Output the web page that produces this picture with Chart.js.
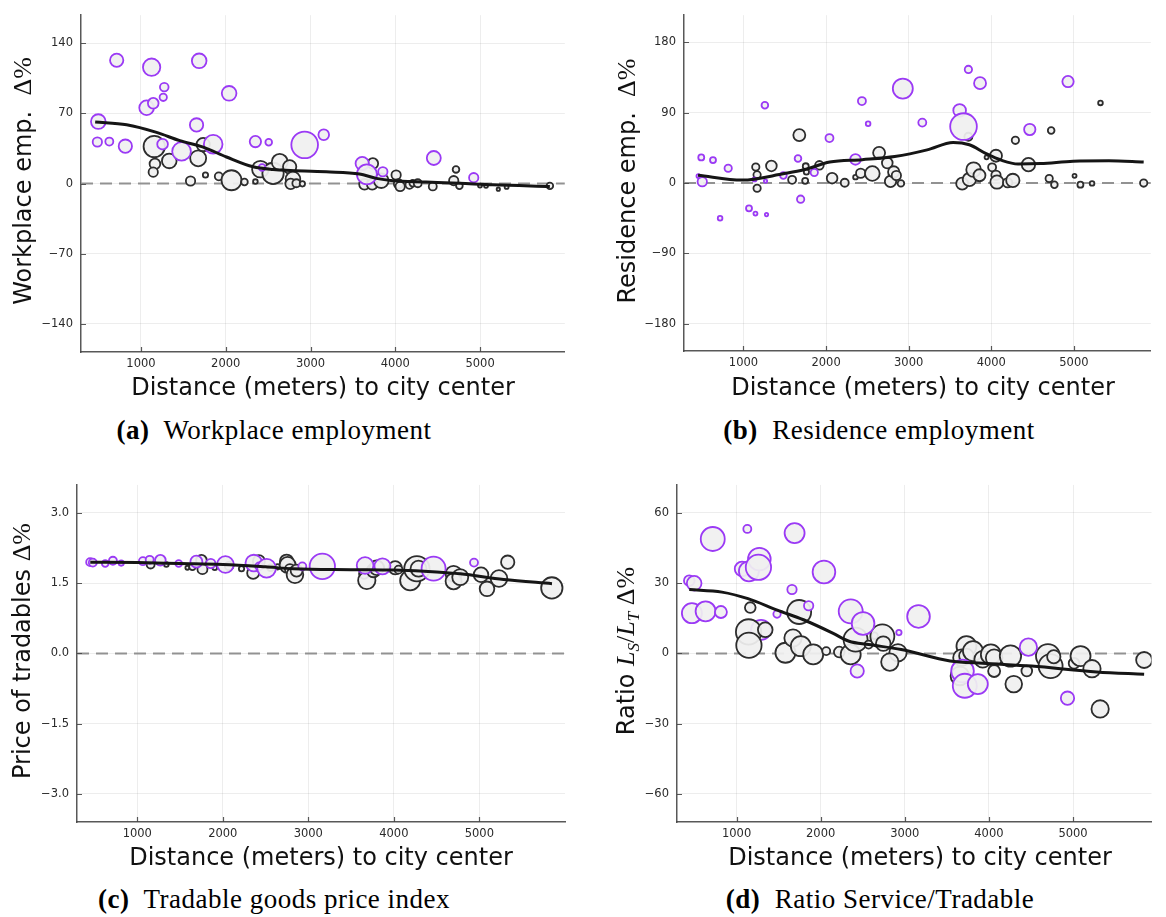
<!DOCTYPE html>
<html>
<head>
<meta charset="utf-8">
<title>Employment, prices and sector ratio by distance to city center</title>
<script src="https://cdn.jsdelivr.net/npm/chart.js@4.4.0/dist/chart.umd.min.js"></script>
<style>
  html, body { margin: 0; padding: 0; background: #fff; }
  #fig { position: relative; width: 1166px; height: 917px; overflow: hidden; background: #fff; }
  canvas { position: absolute; }
  .xt { position: absolute; font-family: 'DejaVu Sans'; font-size: 24px; line-height: 24px;
        white-space: nowrap; transform: translateX(-50%); color: #111; }
  .yt { position: absolute; font-family: 'DejaVu Sans'; font-size: 24px; line-height: 24px;
        white-space: nowrap; transform: translate(-50%, -50%) rotate(-90deg); color: #111; }
  .m { font-family: 'Liberation Serif'; font-size: 26px; }
  .m sub { font-size: 17px; vertical-align: -5px; line-height: 0; }
  .cap { position: absolute; font-family: 'Liberation Serif'; font-size: 27px; line-height: 27px;
         letter-spacing: 0.5px; white-space: nowrap; transform: translateX(-50%); color: #000; }
</style>
</head>
<body>
<div id="fig">
  <canvas id="cA" width="580" height="380" style="left:0px;top:0px"></canvas>
  <canvas id="cB" width="566" height="380" style="left:600px;top:0px"></canvas>
  <canvas id="cC" width="580" height="380" style="left:0px;top:470px"></canvas>
  <canvas id="cD" width="566" height="380" style="left:600px;top:470px"></canvas>

  <div class="yt" style="left:23px;top:181px">Workplace emp.&nbsp;&nbsp;<span class="m">Δ%</span></div>
  <div class="yt" style="left:627px;top:181px">Residence emp.&nbsp;&nbsp;<span class="m">Δ%</span></div>
  <div class="yt" style="left:22px;top:651px">Price of tradables <span class="m">Δ%</span></div>
  <div class="yt" style="left:626px;top:651px">Ratio <span class="m"><i>L</i><sub><i>S</i></sub>/<i>L</i><sub><i>T</i></sub> Δ%</span></div>

  <div class="xt" style="left:323px;top:375px">Distance (meters) to city center</div>
  <div class="xt" style="left:923px;top:375px">Distance (meters) to city center</div>
  <div class="xt" style="left:321px;top:845px">Distance (meters) to city center</div>
  <div class="xt" style="left:920px;top:845px">Distance (meters) to city center</div>

  <div class="cap" style="left:274px;top:417px"><b>(a)</b>&nbsp; Workplace employment</div>
  <div class="cap" style="left:879px;top:417px"><b>(b)</b>&nbsp; Residence employment</div>
  <div class="cap" style="left:274px;top:886px"><b>(c)</b>&nbsp; Tradable goods price index</div>
  <div class="cap" style="left:880px;top:886px"><b>(d)</b>&nbsp; Ratio Service/Tradable</div>
</div>

<script>
// Shared x-axis ticks (meters)
const xTicks = [1000, 2000, 3000, 4000, 5000];

// ---------- (a) Workplace employment ----------
// group: 1 = highlighted neighbourhoods, 0 = others; weight drives bubble size
const distA = [1157, 1165, 1145, 1334, 1585, 1675, 1734, 1761, 1918, 2068, 2221, 2350, 2409, 2558, 2637, 2754, 2793, 2766, 2833, 2904,
               3735, 3637, 3728, 3834, 4010, 4038, 4057, 4167, 4206, 4265, 4442, 4689, 4716, 4756, 4999, 5070, 5215, 5313, 5823,
               497, 486, 627, 714, 816, 1067, 1145, 1126, 1275, 1263, 1255, 1479, 1656, 1687, 1852, 2040, 2350, 2507, 2429, 2931,
               3156, 3610, 3665, 3853, 4454, 4925];
const valA  = [37, 19.6, 11.4, 22.6, 2.6, 25.2, 38.9, 8.5, 7.2, 3.3, 1.6, 2.0, 14.4, 10.1, 21.6, 16.7, 4.6, -0.3, 0.3, -0.3,
               20, -0.7, -0.7, 2.9, 8.5, -0.3, -2.9, -1.3, 0.3, 0.3, -2.9, 2.9, 14.1, -2.3, -2.0, -2.3, -5.6, -3.3, -2.3,
               61.8, 41.5, 41.9, 123, 37.3, 75.6, 80.1, 116.1, 96.2, 86, 39.3, 32.1, 58.5, 122.4, 39.3, 90, 41.9, 41.2, 16.0, 38.6,
               48.7, 20, 9.2, 11.8, 25.5, 5.9];
const weightA = [32, 16, 14, 22, 14, 24, 20, 8, 12, 30, 10, 7, 25, 32, 24, 20, 22, 16, 12, 8,
                 16, 16, 16, 22, 14, 14, 14, 12, 10, 12, 12, 14, 10, 10, 6, 6, 5, 6, 10,
                 22, 14, 12, 20, 20, 22, 16, 26, 13, 11, 16, 28, 20, 22, 28, 22, 17, 10, 10, 40,
                 16, 20, 30, 14, 21, 14];
const groupA = [0,0,0,0,0,0,0,0,0,0,0,0,0,0,0,0,0,0,0,0,
                0,0,0,0,0,0,0,0,0,0,0,0,0,0,0,0,0,0,0,
                1,1,1,1,1,1,1,1,1,1,1,1,1,1,1,1,1,1,1,1,
                1,1,1,1,1,1];
const fitDistA = [460, 831, 1184, 1459, 1734, 2009, 2323, 2558, 3186, 3578, 3775, 3971, 4363, 4756, 5149, 5823];
const fitValA  = [61.5, 58.6, 51, 42.8, 36.3, 26.5, 16.7, 14.1, 11.8, 9.5, 5.2, 2.9, 1.6, 0.3, -1.3, -2.9];
const yTicksA = [-140, -70, 0, 70, 140];
const xLimA = [293, 6000];
const yLimA = [-168, 168];

// ---------- (b) Residence employment ----------
const distB = [1149, 1165, 1165, 1338, 1589, 1676, 1747, 1754, 1762, 1919, 2073, 2226, 2356, 2419, 2560, 2642, 2741, 2780, 2819, 2851, 2906,
               3648, 3735, 3786, 3857, 3723, 3943, 4057, 4010, 4057, 4069, 4198, 4261, 4292, 4450, 4725, 4701, 4764, 5008, 5079, 5220, 5322, 5845,
               489, 631, 815, 501, 455, 717, 1067, 1145, 1279, 1259, 1134, 1267, 1483, 1660, 1692, 1857, 2041, 2356, 2434, 2509, 2929,
               3165, 3617, 3664, 3723, 3864, 4466, 4929];
const valB  = [20.6, 10.5, -6.7, 21.9, 4.2, 61.4, 2.9, 21.5, 14.3, 22.7, 6.3, 0.4, 7.6, 12.6, 12.2, 38.7, 25.7, 2.1, 14.3, 9.7, -0.4,
               -0.8, 4.6, 17.2, 10, 59.3, 33, 35, 20.2, 10, 1.3, 0.4, 3.4, 54.7, 23.6, 67.3, 5.9, -2.1, 9.3, -2.1, -0.4, 102.6, 0,
               32.8, 29.4, 18.9, 1.7, 9, -45, -32.4, -39, -40.4, 99.7, 4.6, 2.5, 9.7, 31.5, -20.6, 13.5, 57.6, 30.3, 105, 76, 121,
               77.4, 93, 72.3, 145.5, 127.9, 68.6, 130];
const weightB = [11, 11, 11, 16, 12, 18, 9, 9, 8, 13, 16, 12, 7, 14, 22, 18, 16, 17, 17, 14, 10,
                 18, 20, 22, 18, 12, 6, 18, 12, 14, 20, 14, 20, 11, 20, 10, 11, 10, 6, 9, 7, 7, 11,
                 9, 9, 11, 14, 6, 7, 9, 6, 5, 10, 6, 5, 10, 10, 11, 11, 12, 16, 12, 7, 30,
                 12, 19, 40, 11, 18, 17, 17];
const groupB = [0,0,0,0,0,0,0,0,0,0,0,0,0,0,0,0,0,0,0,0,0,
                0,0,0,0,0,0,0,0,0,0,0,0,0,0,0,0,0,0,0,0,0,0,
                1,1,1,1,1,1,1,1,1,1,1,1,1,1,1,1,1,1,1,1,1,
                1,1,1,1,1,1,1];
const fitDistB = [450, 984, 1495, 1731, 2045, 2438, 2831, 3224, 3538, 3735, 3931, 4128, 4324, 4599, 4992, 5424, 5845];
const fitValB  = [10, 3.8, 12.2, 17, 27, 30, 34, 42.5, 52, 49, 38, 29, 24.4, 25, 28, 28.6, 27];
const yTicksB = [-180, -90, 0, 90, 180];
const xLimB = [280, 5932];
const yLimB = [-215, 215];

// ---------- (c) Tradable goods price index ----------
const distC = [1156, 1340, 1586, 1645, 1750, 1762, 1906, 2074, 2219, 2355, 2422, 2559, 2641, 2746, 2758, 2785, 2844, 2863,
               3652, 3684, 3723, 3762, 3801, 4016, 4055, 4191, 4270, 4289, 4699, 4699, 4777, 5020, 5090, 5230, 5332, 5848,
               449, 480, 625, 715, 812, 1066, 1145, 1270, 1484, 1691, 1859, 2031, 2363, 2426, 2512, 2930, 3164, 3664, 3867, 4465, 4938];
const valC  = [1.90, 1.90, 1.83, 1.85, 1.99, 1.80, 1.83, 1.87, 1.81, 1.72, 1.97, 1.83, 1.85, 1.97, 1.89, 1.80, 1.68, 1.77,
               1.70, 1.56, 1.74, 1.77, 1.83, 1.83, 1.79, 1.56, 1.81, 1.81, 1.70, 1.54, 1.63, 1.68, 1.38, 1.60, 1.95, 1.40,
               1.95, 1.94, 1.92, 1.98, 1.93, 1.97, 2.00, 1.99, 1.92, 1.96, 1.92, 1.90, 1.93, 1.86, 1.82, 1.86, 1.86, 1.88, 1.86, 1.81, 1.94];
const weightC = [12, 7, 6, 10, 16, 15, 7, 13, 8, 18, 18, 10, 8, 20, 24, 15, 25, 18,
                 15, 26, 8, 20, 22, 20, 12, 30, 38, 24, 24, 24, 24, 22, 22, 25, 20, 32,
                 12, 12, 10, 12, 8, 12, 12, 16, 10, 18, 14, 25, 25, 12, 28, 12, 38, 25, 24, 36, 12];
const groupC = [0,0,0,0,0,0,0,0,0,0,0,0,0,0,0,0,0,0,
                0,0,0,0,0,0,0,0,0,0,0,0,0,0,0,0,0,0,
                1,1,1,1,1,1,1,1,1,1,1,1,1,1,1,1,1,1,1,1,1];
const fitDistC = [450, 1000, 1500, 2000, 2500, 2824, 3500, 3996, 4500, 4777, 5285, 5850];
const fitValC  = [1.95, 1.94, 1.92, 1.90, 1.85, 1.81, 1.79, 1.78, 1.74, 1.70, 1.58, 1.49];
const yTicksC = [-3.0, -1.5, 0.0, 1.5, 3.0];
const xLimC = [295, 6002];
const yLimC = [-3.6, 3.6];

// ---------- (d) Ratio Service/Tradable ----------
const distD = [1291,
               1163, 1744, 1143, 1147, 1341, 1581, 1671, 1764, 1911, 2066, 2221, 2357, 2415, 2570, 2640, 2733, 2744, 2919, 2822,
               3733, 3674, 3655, 3733, 3810, 3926, 4023, 4062, 4062, 4256, 4295, 4450, 4702, 4733, 4771, 5012, 5089, 5225, 5322, 5845,
               438, 496, 717, 1128, 1690, 1066, 1147, 1271, 1260, 2039, 1659, 469, 632, 814, 1481, 1857, 2357, 2504, 3163, 2930,
               2434, 3686, 3713, 3868, 4469, 4934];
const valD  = [10.1,
               19.6, 17.7, 9.2, 3.5, 10.1, 0.3, 6.6, 3.1, -0.4, 1.0, 0.6, -0.4, 5.9, 3.8, 7.6, 7.3, 4.2, 0.3, -3.7,
               3.1, -1.8, -9.6, -1.1, 1.0, -2.5, -0.4, -1.8, -7.5, -1.1, -13.1, -7.5, -1.1, -5.4, -1.4, -4.2, -1.1, -6.5, -23.7, -2.8,
               31.1, 30, 48.9, 53.2, 51.4, 36.1, 35.1, 40.3, 36.8, 34.8, 27.3, 17.2, 18.0, 17.7, 16.8, 20.4, 18.0, 12.8, 15.8, 8.9,
               -7.5, -7.5, -13.8, -13.1, 2.7, -19.1];
const weightD = [30,
                 16, 36, 38, 38, 22, 30, 26, 30, 30, 12, 16, 30, 36, 12, 10, 36, 22, 26, 26,
                 30, 25, 28, 22, 30, 25, 30, 25, 18, 32, 25, 16, 36, 36, 20, 16, 30, 26, 26, 24,
                 16, 22, 36, 12, 30, 22, 30, 34, 38, 34, 14, 30, 30, 18, 11, 14, 36, 34, 34, 8,
                 20, 34, 36, 30, 26, 20];
const groupD = [1,
                0,0,0,0,0,0,0,0,0,0,0,0,0,0,0,0,0,0,0,
                0,0,0,0,0,0,0,0,0,0,0,0,0,0,0,0,0,0,0,0,
                1,1,1,1,1,1,1,1,1,1,1,1,1,1,1,1,1,1,1,1,
                1,1,1,1,1,1];
const fitDistD = [438, 826, 1136, 1484, 1795, 2143, 2337, 2570, 2957, 3539, 3926, 4507, 5283, 5845];
const fitValD  = [27.3, 26.2, 23.4, 18.5, 14.4, 8.7, 5.2, 3.8, 1.7, -3.2, -4.2, -5.4, -7.9, -8.9];
const yTicksD = [-60, -30, 0, 30, 60];
const xLimD = [292, 5933];
const yLimD = [-72, 72];

// ---------- styling ----------
const PURPLE = 'rgb(155, 58, 245)';
const EDGE = 'rgb(45, 45, 45)';
const FILL = 'rgba(240, 240, 240, 0.93)';
const AXIS = 'rgba(70, 70, 70, 0.9)';
const GRID = 'rgba(0, 0, 0, 0.07)';
const TICKFONT = { family: 'DejaVu Sans', size: 11.5 };
const minus = s => s.replace('-', '\u2212');

// short tick marks pointing into the plot area
const innerTicks = {
  id: 'innerTicks',
  afterDraw(chart) {
    const { ctx, chartArea: a, scales: { x, y } } = chart;
    ctx.save();
    ctx.strokeStyle = AXIS;
    ctx.lineWidth = 1.2;
    ctx.beginPath();
    x.ticks.forEach(t => {
      const p = Math.round(x.getPixelForValue(t.value)) + 0.5;
      ctx.moveTo(p, a.bottom); ctx.lineTo(p, a.bottom - 5);
    });
    y.ticks.forEach(t => {
      const p = Math.round(y.getPixelForValue(t.value)) + 0.5;
      ctx.moveTo(a.left, p); ctx.lineTo(a.left + 5, p);
    });
    ctx.stroke();
    ctx.restore();
  }
};

function panel(id, p) {
  const bubbles = p.dist.map((d, i) => ({ x: d, y: p.val[i], r: p.weight[i] / 3 }));
  const fit = p.fitDist.map((d, i) => ({ x: d, y: p.fitVal[i] }));
  const zero = [{ x: p.xLim[0], y: 0 }, { x: p.xLim[1], y: 0 }];
  new Chart(document.getElementById(id), {
    type: 'bubble',
    data: {
      datasets: [
        { type: 'line', data: fit, borderColor: '#151515', borderWidth: 3, pointRadius: 0,
          cubicInterpolationMode: 'monotone', order: 0 },
        { type: 'bubble', data: bubbles, backgroundColor: FILL,
          borderColor: p.group.map(g => g ? PURPLE : EDGE), borderWidth: 1.8, order: 1 },
        { type: 'line', data: zero, borderColor: 'rgba(140, 140, 140, 0.95)', borderWidth: 2,
          borderDash: [12, 7], pointRadius: 0, order: 2 }
      ]
    },
    options: {
      responsive: false,
      animation: false,
      events: [],
      layout: { padding: { top: p.padTop, right: p.padRight, left: 0, bottom: 0 } },
      plugins: { legend: { display: false }, tooltip: { enabled: false } },
      scales: {
        x: {
          type: 'linear', min: p.xLim[0], max: p.xLim[1],
          afterBuildTicks: s => { s.ticks = xTicks.map(v => ({ value: v })); },
          afterFit: s => { s.height = p.xAxisH; },
          grid: { color: GRID, drawTicks: false },
          border: { color: AXIS, width: 1.5 },
          ticks: { font: TICKFONT, color: '#2a2a2a', padding: 5, maxRotation: 0, autoSkip: false,
                   callback: v => String(v) }
        },
        y: {
          type: 'linear', min: p.yLim[0], max: p.yLim[1],
          afterBuildTicks: s => { s.ticks = p.yTicks.map(v => ({ value: v })); },
          afterFit: s => { s.width = p.yAxisW; },
          grid: { color: GRID, drawTicks: false },
          border: { color: AXIS, width: 1.5 },
          ticks: { font: TICKFONT, color: '#2a2a2a', padding: 8, autoSkip: false,
                   callback: v => minus(p.fmt(v)) }
        }
      }
    },
    plugins: [innerTicks]
  });
}

panel('cA', { dist: distA, val: valA, weight: weightA, group: groupA, fitDist: fitDistA, fitVal: fitValA,
              yTicks: yTicksA, xLim: xLimA, yLim: yLimA, fmt: v => String(v),
              padTop: 10, padRight: 14, yAxisW: 81, xAxisH: 28 });
panel('cB', { dist: distB, val: valB, weight: weightB, group: groupB, fitDist: fitDistB, fitVal: fitValB,
              yTicks: yTicksB, xLim: xLimB, yLim: yLimB, fmt: v => String(v),
              padTop: 10, padRight: 3, yAxisW: 84, xAxisH: 29 });
panel('cC', { dist: distC, val: valC, weight: weightC, group: groupC, fitDist: fitDistC, fitVal: fitValC,
              yTicks: yTicksC, xLim: xLimC, yLim: yLimC, fmt: v => v.toFixed(1),
              padTop: 9, padRight: 15, yAxisW: 77, xAxisH: 28 });
panel('cD', { dist: distD, val: valD, weight: weightD, group: groupD, fitDist: fitDistD, fitVal: fitValD,
              yTicks: yTicksD, xLim: xLimD, yLim: yLimD, fmt: v => String(v),
              padTop: 10, padRight: 3, yAxisW: 77, xAxisH: 28 });
</script>
</body>
</html>
